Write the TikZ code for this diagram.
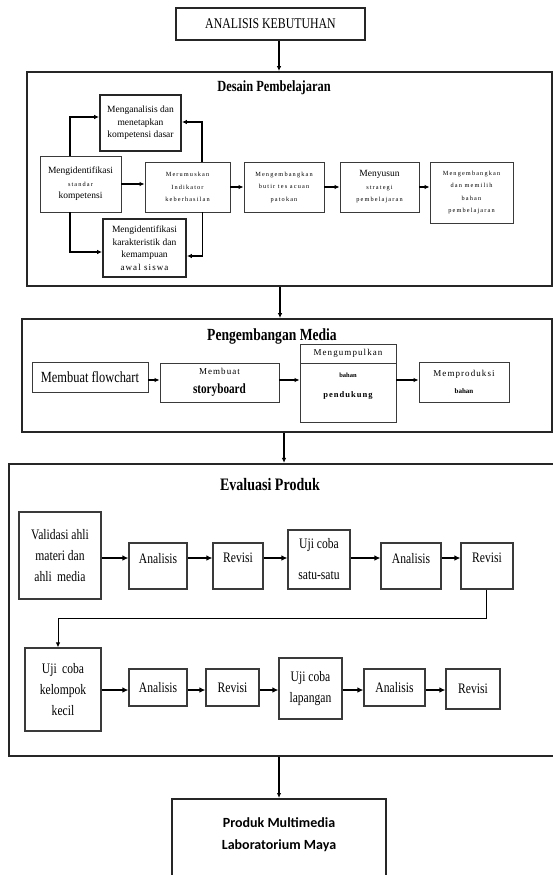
\documentclass[tikz,border=0pt]{standalone}
\usepackage{fontspec}
\setmainfont{Liberation Serif}
\newfontfamily\narrowfont[FakeStretch=0.8]{Liberation Serif}
\newfontfamily\tinyspaced[LetterSpace=18]{Liberation Serif}
\newfontfamily\midspaced[LetterSpace=12]{Liberation Serif}
\newfontfamily\calibrifont{Carlito}
\usepackage{tikz}
\usetikzlibrary{positioning, arrows.meta}
\definecolor{frameline}{HTML}{262626}
\definecolor{boxline}{HTML}{3A3A3A}
\newcommand{\tinytxt}[1]{{\tinyspaced\fontsize{6.3}{12.5}\selectfont #1}}
\newcommand{\midtxt}[1]{{\midspaced\fontsize{9}{12.5}\selectfont #1}}
\tikzset{
  box/.style={draw=boxline, line width=0.9pt, align=center, inner sep=1pt,
              font=\fontsize{9.5}{12.5}\selectfont},
  thickbox/.style={box, draw=frameline, line width=1.8pt},
  frame/.style={draw=frameline, line width=1.8pt},
  title/.style={font=\narrowfont\bfseries},
  evalbox/.style={box, line width=1.1pt, font=\narrowfont\fontsize{14.5}{21}\selectfont},
  raised/.style={text depth=16pt},
  arr/.style={-{Latex[length=5pt,width=4.5pt]}, line width=1.1pt},
  bigarr/.style={-{Latex[length=6pt,width=5.5pt]}, line width=1.6pt},
}

\begin{document}
\begin{tikzpicture}[x=1pt, y=-1pt]
  \useasboundingbox[fill=white] (0,0) rectangle (553,875);
  \coordinate (spine) at (279,0);
  \coordinate (spineB) at (284,0);

  \node[box, line width=1.6pt, draw=frameline, minimum width=189pt, minimum height=32pt,
        font=\narrowfont\fontsize{14.8}{16}\selectfont] (ana) at (270.5,24) {ANALISIS KEBUTUHAN};

  % desain pembelajaran
  \node[frame, minimum width=525pt, minimum height=214pt] (desain) at (289.5,179) {};
  \node[title, font=\narrowfont\bfseries\fontsize{15.5}{17}\selectfont] (desainT) at (274,88) {Desain Pembelajaran};
  \node[thickbox, minimum width=81pt, minimum height=56pt] (kd) at (140.5,123)
    {Menganalisis dan\\menetapkan\\kompetensi dasar};
  \node[box, minimum width=81pt, minimum height=56pt] (sk) at (80.5,184)
    {Mengidentifikasi\\\tinytxt{standar}\\kompetensi};
  \node[box, minimum width=85pt, minimum height=50pt] (ind) at (187.5,187)
    {\tinytxt{Merumuskan}\\\tinytxt{Indikator}\\\tinytxt{keberhasilan}};
  \node[box, minimum width=80pt, minimum height=50pt] (tes) at (284,187)
    {\tinytxt{Mengembangkan}\\\tinytxt{butir tes acuan}\\\tinytxt{patokan}};
  \node[box, minimum width=79pt, minimum height=50pt] (strat) at (379.5,187)
    {Menyusun\\\tinytxt{strategi}\\\tinytxt{pembelajaran}};
  \node[box, minimum width=83pt, minimum height=61pt] (bahan) at (471.5,192.5)
    {\tinytxt{Mengembangkan}\\\tinytxt{dan memilih}\\\tinytxt{bahan}\\\tinytxt{pembelajaran}};
  \node[thickbox, minimum width=83pt, minimum height=58pt] (kar) at (144.5,248)
    {Mengidentifikasi\\karakteristik dan\\kemampuan\\\midtxt{awal siswa}};

  \draw[arr] (sk.east) -- (sk.east -| ind.west);
  \draw[arr] (ind) -- (tes);
  \draw[arr] (tes) -- (strat);
  \draw[arr] (strat.east) -- (strat.east -| bahan.west);
  \draw[arr] ([xshift=-10.5pt]sk.north) |- ([yshift=6pt]kd.west);
  \draw[arr] ([xshift=14.5pt]ind.north) |- ([yshift=1pt]kd.east);
  \draw[arr] ([xshift=-10.5pt]sk.south) |- ([yshift=-4pt]kar.west);
  \draw[arr] ([xshift=15pt]ind.south) |- ([yshift=-8pt]kar.east);

  % pengembangan media
  \node[frame, minimum width=530pt, minimum height=113pt] (media) at (287,375.5) {};
  \node[title, font=\narrowfont\bfseries\fontsize{17}{19}\selectfont] (mediaT) at (272,336) {Pengembangan Media};
  \node[box, minimum width=116pt, minimum height=30pt,
        font=\narrowfont\fontsize{15.5}{17}\selectfont] (flow) at (90,377) {Membuat flowchart};
  \node[box, minimum width=119pt, minimum height=39pt, font=\fontsize{9}{19}\selectfont] (story) at (219.5,382.5)
    {\midtxt{Membuat}\\{\narrowfont\bfseries\fontsize{14}{19}\selectfont storyboard}};
  \node[box, minimum width=96pt, minimum height=19pt] (kumpulA) at (348,353.5) {\midtxt{Mengumpulkan}};
  \node[box, minimum width=96pt, minimum height=59pt, text depth=14pt,
        font=\fontsize{8}{20}\selectfont] (kumpulB) at (348,392.5)
    {{\bfseries\fontsize{6.5}{20}\selectfont bahan}\\{\midspaced\bfseries\fontsize{8.5}{20}\selectfont pendukung}};
  \node[box, minimum width=90pt, minimum height=40pt, font=\fontsize{9}{17}\selectfont] (prod1) at (464,382)
    {\midtxt{Memproduksi}\\{\bfseries\fontsize{7}{17}\selectfont bahan}};
  \coordinate (rowM) at (0,380);
  \foreach \a/\b in {flow/story, story/kumpulB, kumpulB/prod1}
    \draw[arr] (\a.east |- rowM) -- (\b.west |- rowM);

  % evaluasi produk
  \node[frame, line width=2.2pt, minimum width=548pt, minimum height=292pt] (evaluasi) at (283,610) {};
  \node[title, font=\narrowfont\bfseries\fontsize{17.5}{19}\selectfont] (evaluasiT) at (270,485) {Evaluasi Produk};
  \node[evalbox, minimum width=82pt, minimum height=87pt] (validasi) at (60,555.5)
    {Validasi ahli\\materi dan\\ahli\, media};
  \node[evalbox, raised, minimum width=58pt, minimum height=46pt] (anA) at (158,566) {Analisis};
  \node[evalbox, raised, minimum width=50pt, minimum height=46pt] (revA) at (238,566) {Revisi};
  \node[evalbox, minimum width=62pt, minimum height=59pt] (ujiA) at (319,559.5) {Uji coba\\[10pt]satu-satu};
  \node[evalbox, raised, minimum width=60pt, minimum height=46pt] (anB) at (411,566) {Analisis};
  \node[evalbox, raised, minimum width=52pt, minimum height=46pt] (revB) at (487,566) {Revisi};
  \node[evalbox, minimum width=76pt, minimum height=83pt] (kecil) at (63,689.5)
    {Uji\, coba\\kelompok\\kecil};
  \node[evalbox, minimum width=58pt, minimum height=37pt] (anC) at (158,687.5) {Analisis};
  \node[evalbox, minimum width=53pt, minimum height=37pt] (revC) at (232.5,687.5) {Revisi};
  \node[evalbox, minimum width=63pt, minimum height=61pt] (lapangan) at (310.5,688.5) {Uji coba\\lapangan};
  \node[evalbox, minimum width=61pt, minimum height=37pt] (anD) at (394.5,687.5) {Analisis};
  \node[evalbox, minimum width=54pt, minimum height=40pt] (revD) at (473,689) {Revisi};
  \coordinate (rowA) at (0,558);
  \coordinate (rowB) at (0,690);
  \coordinate (turn) at (0,618);
  \foreach \a/\b in {validasi/anA, anA/revA, revA/ujiA, ujiA/anB, anB/revB}
    \draw[bigarr] (\a.east |- rowA) -- (\b.west |- rowA);
  \foreach \a/\b in {kecil/anC, anC/revC, revC/lapangan, lapangan/anD, anD/revD}
    \draw[bigarr] (\a.east |- rowB) -- (\b.west |- rowB);
  \draw[arr, line width=0.9pt] ([xshift=-1pt]revB.south) -- ([xshift=-1pt]revB.south |- turn)
    -| ([xshift=-5pt]kecil.north);

  % produk
  \node[box, draw=frameline, line width=1.8pt, anchor=north, minimum width=214pt, minimum height=80pt,
        text depth=11.5pt, font=\calibrifont\bfseries\fontsize{14}{22}\selectfont] (prod) at (279,798)
    {Produk Multimedia\\Laboratorium Maya};

  \draw[arr] (ana.south -| spine) -- (desain.north -| spine);
  \draw[arr] ([xshift=1pt]desain.south -| spine) -- ([xshift=1pt]media.north -| spine);
  \draw[arr] (media.south -| spineB) -- (evaluasi.north -| spineB);
  \draw[arr] (evaluasi.south -| prod.north) -- (prod.north);
\end{tikzpicture}
\end{document}
